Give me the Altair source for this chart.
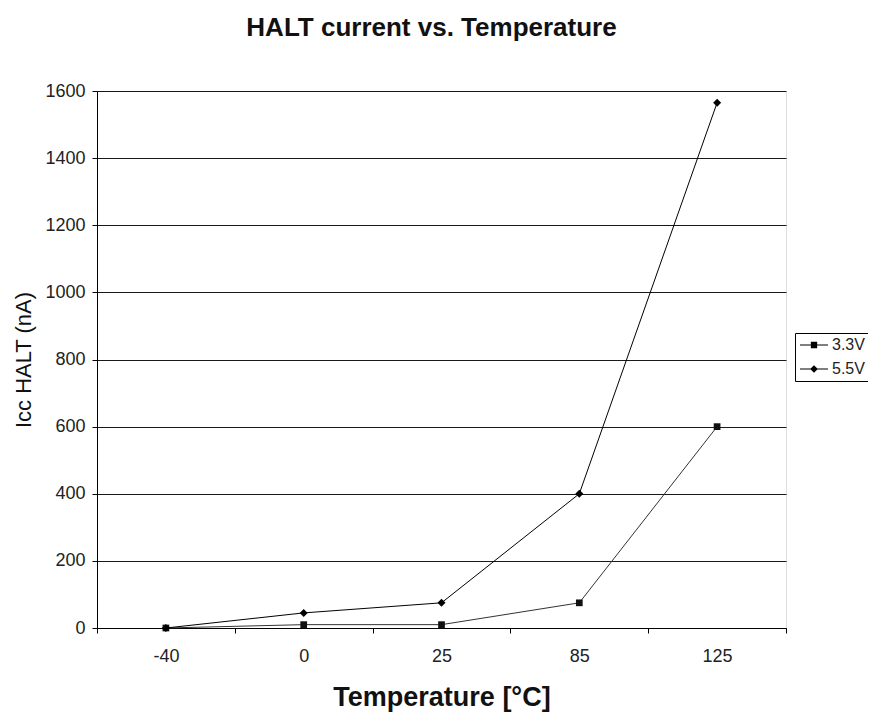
import altair as alt
import pandas as pd

temps = ["-40", "0", "25", "85", "125"]
v33 = [0, 10, 10, 75, 600]
v55 = [0, 45, 75, 400, 1565]
series = ["3.3V", "5.5V"]

rows = []
for t, a, b in zip(temps, v33, v55):
    rows.append({"temp": t, "series": "3.3V", "icc": a})
    rows.append({"temp": t, "series": "5.5V", "icc": b})
df = pd.DataFrame(rows)

FONT = "Liberation Sans"

x = alt.X("temp:N", sort=temps,
          scale=alt.Scale(type="band", paddingInner=0, paddingOuter=0),
          axis=alt.Axis(title="Temperature [°C]", labelAngle=0, tickBand="extent",
                        grid=False, domainColor="#000", tickColor="#000", tickSize=5,
                        labelFontSize=18, labelColor="#222", labelPadding=14,
                        titleFontSize=27, titleFontWeight="bold", titleColor="#111",
                        titlePadding=19))
y = alt.Y("icc:Q", scale=alt.Scale(domain=[0, 1600], nice=False),
          axis=alt.Axis(title="Icc HALT (nA)", values=list(range(0, 1601, 200)), format="d",
                        grid=True, gridColor="#000", gridOpacity=0.9,
                        domainColor="#000", tickColor="#000", tickSize=5,
                        labelFontSize=18, labelColor="#222", labelPadding=7,
                        titleFontSize=22, titleFontWeight="normal", titleColor="#111",
                        titlePadding=9))

base = alt.Chart(df)

lines = base.mark_line(strokeWidth=1).encode(
    x=x, y=y,
    detail="series:N",
    color=alt.Color("series:N", scale=alt.Scale(domain=series, range=["#333", "#000"]), legend=None),
)

points = base.mark_point(filled=True, opacity=1).encode(
    x=x, y=y,
    shape=alt.Shape("series:N", scale=alt.Scale(domain=series, range=["square", "diamond"]), legend=None),
    color=alt.Color("series:N", scale=alt.Scale(domain=series, range=["#111", "#000"]), legend=None),
    size=alt.Size("series:N", scale=alt.Scale(domain=series, range=[45, 64]), legend=None),
)

# legend glyphs: a thin filled bar (the line) plus the marker, all as filled shapes
sq_path = "M-1,-0.07H3V0.07H-1Z M0.55,-0.45H1.45V0.45H0.55Z"
dm_path = "M-1,-0.07H3V0.07H-1Z M1,-0.55L1.55,0L1,0.55L0.45,0Z"

# legend-only layer: no rows pass the filter, the explicit domain still yields the legend
legend_layer = base.transform_filter("datum.icc < 0").mark_point(
    filled=True, color="#000", opacity=1).encode(
    x=x, y=y,
    shape=alt.Shape("series:N", scale=alt.Scale(domain=series, range=[sq_path, dm_path]),
                    legend=alt.Legend(title=None, orient="none", legendX=698, legendY=242,
                                      strokeColor="#000", padding=4, symbolSize=196,
                                      symbolOpacity=1, symbolFillColor="#000",
                                      labelFontSize=16, labelColor="#222", labelFont=FONT,
                                      rowPadding=8, labelOffset=17)),
)

chart = alt.layer(lines, points, legend_layer).resolve_scale(
    shape="independent", color="independent", size="independent"
).properties(
    width=689, height=537,
    title=alt.TitleParams("HALT current vs. Temperature", fontSize=26, fontWeight="bold",
                          font=FONT, color="#111", offset=41, anchor="middle", dx=-10),
    autosize=alt.AutoSizeParams(type="none"),
    padding={"left": 89, "top": 83, "right": 82, "bottom": 86},
).configure_view(stroke="#000", strokeWidth=1).configure_axis(
    labelFont=FONT, titleFont=FONT
).configure(background="white")

chart.save("out.html", embed_options={"renderer": "svg", "actions": False})
